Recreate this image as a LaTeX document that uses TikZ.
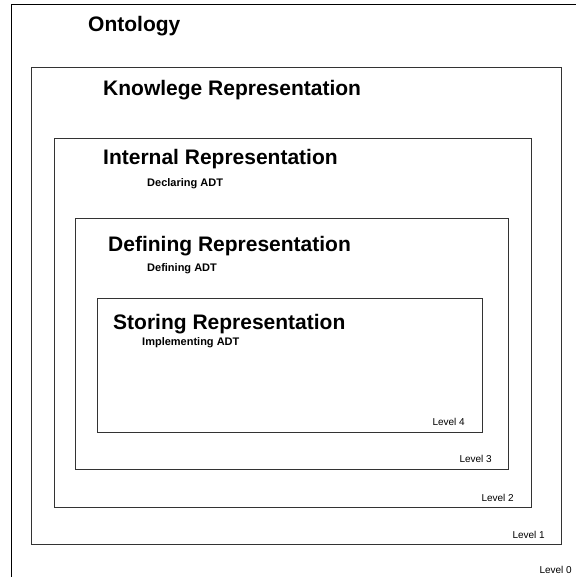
\documentclass[tikz,border=0pt]{standalone}
\usepackage{fontspec}
\setmainfont{Liberation Sans}

\tikzset{
  reptitle/.style={anchor=base west, inner sep=0pt, font=\fontsize{21}{24}\selectfont\bfseries},
  adtlabel/.style={anchor=base west, inner sep=0pt, font=\fontsize{11}{13}\selectfont\bfseries},
  levellabel/.style={anchor=base east, inner sep=0pt, font=\fontsize{10}{12}\selectfont},
  levelbox/.style={draw=black!80, line width=1pt}
}

\begin{document}
\begin{tikzpicture}[x=1pt, y=-1pt]
\useasboundingbox (0,0) rectangle (576,577);

\draw [line width=1.2pt] (11.5,577) -- (11.5,4.5) -- (576,4.5);
\draw [levelbox] (31.5,68) rectangle (561,544);
\draw [levelbox] (54,138.5) rectangle (531,507);
\draw [levelbox] (75,218.5) rectangle (508.5,469);
\draw [levelbox] (97,298.5) rectangle (482,432);

\node [reptitle] (ontology) at (88,32) {Ontology};
\node [reptitle] (knowrep) at (103,96) {Knowlege Representation};

\node [reptitle] (intrep) at (103,165) {Internal Representation};
\node [adtlabel] (declare) at (147,186) {Declaring ADT};

\node [reptitle] (defrep) at (108,251) {Defining Representation};
\node [adtlabel] (define) at (147,271) {Defining ADT};

\node [reptitle] (storrep) at (113,329) {Storing Representation};
\node [adtlabel] (implement) at (142,345) {Implementing ADT};

\node [levellabel] (level4) at (465,425) {Level 4};
\node [levellabel] (level3) at (492,462) {Level 3};
\node [levellabel] (level2) at (514,501) {Level 2};
\node [levellabel] (level1) at (545,538) {Level 1};
\node [levellabel] (level0) at (572,573) {Level 0};

\end{tikzpicture}
\end{document}
